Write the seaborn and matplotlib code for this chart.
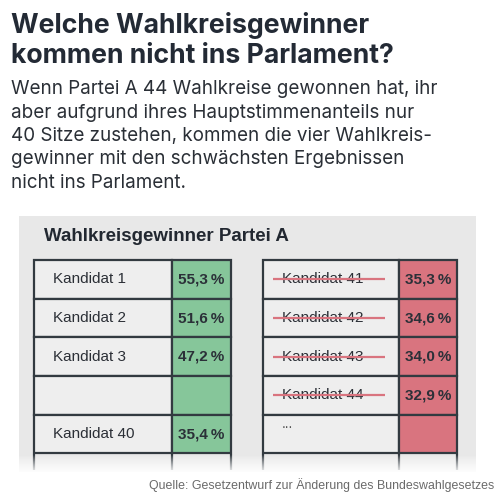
import numpy as np
import matplotlib
matplotlib.use("Agg")
import matplotlib.pyplot as plt
from matplotlib.patches import Rectangle
import seaborn as sns

# ---- data ----
title_lines = ["Welche Wahlkreisgewinner", "kommen nicht ins Parlament?"]
body_lines = [
    "Wenn Partei A 44 Wahlkreise gewonnen hat, ihr",
    "aber aufgrund ihres Hauptstimmenanteils nur",
    "40 Sitze zustehen, kommen die vier Wahlkreis-",
    "gewinner mit den schwächsten Ergebnissen",
    "nicht ins Parlament.",
]
panel_title = "Wahlkreisgewinner Partei A"
left_names = ["Kandidat 1", "Kandidat 2", "Kandidat 3", "", "Kandidat 40"]
left_values = [55.3, 51.6, 47.2, None, 35.4]
right_names = ["Kandidat 41", "Kandidat 42", "Kandidat 43", "Kandidat 44", "..."]
right_values = [35.3, 34.6, 34.0, 32.9, None]
right_struck = [True, True, True, True, False]
source = "Quelle: Gesetzentwurf zur Änderung des Bundeswahlgesetzes"

# ---- style ----
sns.set_theme(style="white")
plt.rcParams["font.family"] = ["Inter", "DejaVu Sans"]

W, H = 501, 500
fig = plt.figure(figsize=(W / 100, H / 100), dpi=100)
fig.patch.set_facecolor("white")


def box(x0, y0, x1, y1):
    return [x0 / W, 1 - y1 / H, (x1 - x0) / W, (y1 - y0) / H]


def fy(y):
    return 1 - y / H


def fx(x):
    return x / W


GREEN = "#86c69a"
RED = "#d9747f"
PANEL = "#e8e8e8"
CELL = "#eeeeee"
LINE = "#323a40"

# background panel
bg = fig.add_axes([0, 0, 1, 1], zorder=0)
bg.set_xlim(0, W)
bg.set_ylim(H, 0)
bg.axis("off")
bg.add_patch(Rectangle((19, 216), 457, 256, color=PANEL, lw=0))

# title and body
for i, t in enumerate(title_lines):
    fig.text(fx(11), fy(32.7 + i * 30.6), t, fontsize=19.2, fontweight="bold",
             color="#232a35", va="baseline", ha="left", family=["Inter", "DejaVu Sans"])
for i, t in enumerate(body_lines):
    fig.text(fx(11), fy(94.3 + i * 23.4), t, fontsize=13.55,
             color="#2a2f36", va="baseline", ha="left", family=["Inter", "DejaVu Sans"])

fig.text(fx(44), fy(240.7), panel_title, fontsize=13.5, fontweight="bold",
         color="#222831", va="baseline", ha="left", family=["Liberation Sans", "DejaVu Sans"])

ROWH = 38.7
NAMEFRAC = 0.70


def draw_table(x0, x1, names, values, color, struck=None):
    ax = fig.add_axes(box(x0, 260, x1, 470), zorder=2)
    nrows_vis = (470 - 260) / ROWH
    ax.set_xlim(0, 1)
    ax.set_ylim(nrows_vis, 0)
    ax.axis("off")
    ax.patch.set_alpha(0)
    rows = np.arange(len(names))
    b1 = ax.barh(rows + 0.5, NAMEFRAC, left=0, height=1.0, color=CELL,
                 edgecolor=LINE, linewidth=1.6)
    b2 = ax.barh(rows + 0.5, 1 - NAMEFRAC, left=NAMEFRAC, height=1.0, color=color,
                 edgecolor=LINE, linewidth=1.6)
    for p in list(b1) + list(b2):
        p.set_clip_on(False)
    ax.vlines([0, NAMEFRAC, 1], len(names), nrows_vis, color=LINE, lw=1.6, clip_on=False)
    width_px = x1 - x0
    for r, (n, v) in enumerate(zip(names, values)):
        if n == "...":
            ax.text(19 / width_px, r + 0.33, "...", fontsize=10, color="#555",
                    va="baseline", ha="left", family=["Liberation Sans", "DejaVu Sans"])
        elif n:
            ax.text(19 / width_px, r + 0.5, n, fontsize=11, color="#2b2f36",
                    va="center", ha="left", family=["Liberation Sans", "DejaVu Sans"])
        if struck is not None and struck[r]:
            ax.hlines(r + 0.5, 10 / width_px, 122 / width_px, color=RED, lw=1.6, zorder=5)
        if v is not None:
            lab = f"{v:.1f}".replace(".", ",") + "\u2009%"
            ax.text(NAMEFRAC + (1 - NAMEFRAC) / 2, r + 0.5, lab, fontsize=11,
                    fontweight="bold", color="#2b3038", va="center", ha="center",
                    family=["Liberation Sans", "DejaVu Sans"])
    return ax


draw_table(34, 230.7, left_names, left_values, GREEN)
draw_table(262.7, 457.3, right_names, right_values, RED, right_struck)

# fade at bottom
ov = fig.add_axes([0, 0, 1, 1], zorder=5)
ov.set_xlim(0, W)
ov.set_ylim(H, 0)
ov.axis("off")
ov.patch.set_alpha(0)
grad = np.zeros((100, 2, 4))
grad[..., :3] = 1.0
alpha = np.linspace(0, 1, 100) ** 0.8
grad[..., 3] = alpha[:, None]
ov.imshow(grad, extent=(0, W, 474, 455), aspect="auto", interpolation="bilinear", zorder=1)
ov.add_patch(Rectangle((0, 474), W, 30, color="white", lw=0, zorder=1))
ov.set_xlim(0, W)
ov.set_ylim(H, 0)

fig.text(fx(494), fy(489), source, fontsize=8.95, color="#6a6a6a", ha="right",
         va="baseline", family=["Liberation Sans", "DejaVu Sans"], zorder=20)

fig.savefig("out.png", dpi=100, facecolor="white")
